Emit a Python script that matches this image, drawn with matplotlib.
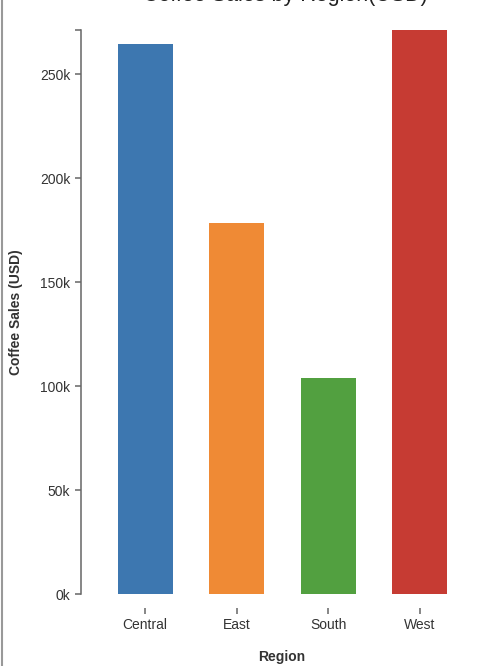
"""Coffee sales by region, bar chart."""

import matplotlib

matplotlib.use("Agg")

import matplotlib.pyplot as plt
from matplotlib.lines import Line2D
from matplotlib.ticker import FuncFormatter

regions = ["Central", "East", "South", "West"]
sales = [264500, 178500, 104000, 271200]
colors = ["#3d77b0", "#ef8a35", "#52a040", "#c63b33"]
y_ticks = [0, 50000, 100000, 150000, 200000, 250000]

W, H = 482, 666
plt.rcParams["font.family"] = ["Liberation Sans", "DejaVu Sans"]

fig = plt.figure(figsize=(W / 100, H / 100), dpi=100)
# plot area in pixels: x 81..482, y 30..594 (from top)
ax = fig.add_axes([81 / W, (H - 594) / H, (W - 81) / W, (594 - 30) / H])

x = list(range(len(regions)))
ax.bar(x, sales, width=0.6, color=colors)

ax.set_xlim(-0.7, 3.68)
ax.set_ylim(0, max(sales))

axis_col = "#666666"
text_col = "#333333"
tick_len = 4.3  # points, ~6 px

for side in ["top", "right", "bottom"]:
    ax.spines[side].set_visible(False)
ax.spines["left"].set_color(axis_col)
ax.spines["left"].set_linewidth(1.1)
ax.spines["bottom"].set_position(("outward", 10))

ax.set_yticks(y_ticks)
ax.yaxis.set_major_formatter(FuncFormatter(lambda v, p: f"{int(v / 1000)}k"))
ax.set_yticks([max(sales)], minor=True)
ax.tick_params(axis="y", which="both", length=tick_len, width=1.1, color=axis_col,
               labelsize=10, labelcolor=text_col, pad=3.5)
ax.tick_params(axis="y", which="minor", labelleft=False)

ax.set_xticks(x)
ax.set_xticklabels(regions)
ax.tick_params(axis="x", length=tick_len, width=1.1, color=axis_col,
               labelsize=10, labelcolor=text_col, pad=3)

ax.set_xlabel("Region", fontsize=10, fontweight="bold", color=text_col, labelpad=13)
fig.text(16 / W, 1 - 312 / H, "Coffee Sales (USD)", rotation=90, ha="center",
         va="center", fontsize=10, fontweight="bold", color=text_col)

fig.text(285 / W, 1 - 1 / H, "Coffee Sales by Region(USD)", ha="center",
         va="baseline", fontsize=15.5, color="#222222")

fig.add_artist(Line2D([2 / W, 2 / W], [0, 1], transform=fig.transFigure,
                      color="#999999", linewidth=1.5))

fig.savefig("out.png", dpi=100)
